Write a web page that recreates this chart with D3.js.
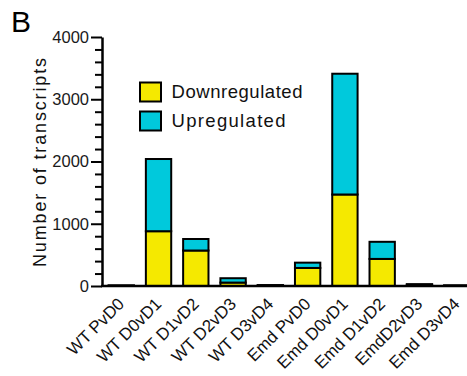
<!DOCTYPE html>
<html>
<head>
<meta charset="utf-8">
<script src="https://cdn.jsdelivr.net/npm/d3@7"></script>
<style>
  html, body { margin: 0; padding: 0; background: #fff; }
  svg { display: block; font-family: "Liberation Sans", Arial, sans-serif; }
</style>
</head>
<body>
<svg id="chart" width="467" height="376"></svg>
<script>
// Differentially expressed transcripts per comparison
const categories = ["WT PvD0", "WT D0vD1", "WT D1vD2", "WT D2vD3", "WT D3vD4",
                    "Emd PvD0", "Emd D0vD1", "Emd D1vD2", "EmdD2vD3", "Emd D3vD4"];
const downregulated = [5, 880, 570, 55, 8, 290, 1470, 435, 18, 6];
const upregulated   = [5, 1160, 185, 70, 7, 85, 1940, 275, 12, 4];
const yTicks = [0, 1000, 2000, 3000, 4000];
const yMinorTicks = [200, 400, 600, 800, 1200, 1400, 1600, 1800, 2200, 2400, 2600, 2800, 3200, 3400, 3600, 3800];
const seriesNames = ["Downregulated", "Upregulated"];
const seriesColors = ["#f5e900", "#00c9dc"];

const svg = d3.select("#chart");
const axisX = 102, axisY = 286;

const x = d3.scaleBand().domain(categories).range([103, 475]).paddingInner(0.32).paddingOuter(0.15);
const y = d3.scaleLinear().domain([0, 4000]).range([axisY, 37]);

const rows = categories.map((c, i) => ({ cat: c, Downregulated: downregulated[i], Upregulated: upregulated[i] }));
const stacked = d3.stack().keys(seriesNames)(rows);

// Stacked bars
svg.append("g").selectAll("g")
  .data(stacked).join("g")
  .attr("fill", (d, i) => seriesColors[i])
  .selectAll("rect")
  .data(d => d).join("rect")
  .attr("x", d => x(d.data.cat))
  .attr("y", d => y(d[1]))
  .attr("width", x.bandwidth())
  .attr("height", d => y(d[0]) - y(d[1]))
  .attr("stroke", "#000")
  .attr("stroke-width", 2);

// Minor ticks every 200
const yMinor = svg.append("g").attr("transform", `translate(${axisX},0)`);
yMinor.call(d3.axisLeft(y).tickValues(yMinorTicks).tickFormat("").tickSize(7).tickSizeOuter(0));
yMinor.select(".domain").remove();
yMinor.selectAll(".tick line").attr("stroke", "#000").attr("stroke-width", 2);

// Y axis
const yAxis = svg.append("g").attr("transform", `translate(${axisX},0)`);
yAxis.call(d3.axisLeft(y).tickValues(yTicks).tickFormat(d3.format("d"))
  .tickSize(11).tickSizeOuter(0).tickPadding(2));
yAxis.select(".domain").attr("stroke-width", 2.5);
yAxis.selectAll(".tick line").attr("stroke-width", 2);
yAxis.selectAll(".tick text")
  .attr("font-size", 16.5).attr("fill", "#1a1a1a")
  .attr("font-family", "Liberation Sans, Arial, sans-serif");

// X axis
const xAxis = svg.append("g").attr("transform", `translate(0,${axisY})`);
xAxis.append("line").attr("x1", axisX - 1).attr("x2", 467).attr("y1", 0).attr("y2", 0)
  .attr("stroke", "#000").attr("stroke-width", 2.5);
xAxis.selectAll("text")
  .data(categories).join("text")
  .attr("transform", d => `translate(${x(d) + x.bandwidth() / 2 + 4},${19}) rotate(-45)`)
  .attr("text-anchor", "end")
  .attr("font-size", 17)
  .attr("fill", "#111")
  .text(d => d);

// Y axis title
svg.append("text")
  .attr("transform", "translate(46,162.5) rotate(-90)")
  .attr("text-anchor", "middle")
  .attr("font-size", 18)
  .attr("textLength", 209)
  .attr("lengthAdjust", "spacing")
  .attr("fill", "#111")
  .text("Number of transcripts");

// Panel letter
svg.append("text").attr("x", 11).attr("y", 32)
  .attr("font-size", 30).attr("fill", "#000").text("B");

// Legend
const legend = svg.append("g").attr("transform", "translate(140,82.5)");
const legendWidths = [131, 114];
seriesNames.forEach((name, i) => {
  const g = legend.append("g").attr("transform", `translate(0,${i * 29})`);
  g.append("rect").attr("width", 21).attr("height", 19)
    .attr("fill", seriesColors[i]).attr("stroke", "#000").attr("stroke-width", 2);
  g.append("text").attr("x", 31.5).attr("y", 15.5)
    .attr("font-size", 18.5)
    .attr("textLength", legendWidths[i]).attr("lengthAdjust", "spacing")
    .attr("fill", "#111").text(name);
});
</script>
</body>
</html>
